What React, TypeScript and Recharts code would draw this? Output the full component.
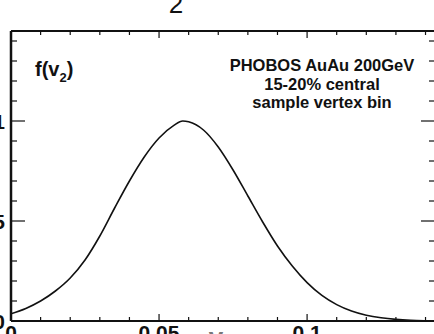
import React from "react"
import { LineChart, Line, XAxis, YAxis } from "recharts"

// v2 values (x) and f(v2)
const v2Values = [
  0, 0.005, 0.01, 0.015, 0.02, 0.025, 0.03, 0.035, 0.04, 0.045, 0.05, 0.055,
  0.058, 0.06, 0.065, 0.07, 0.075, 0.08, 0.085, 0.09, 0.095, 0.1, 0.105, 0.11,
  0.115, 0.12, 0.125, 0.13, 0.135, 0.14, 0.145,
]
const fValues = [
  0.036, 0.063, 0.1, 0.15, 0.215, 0.305, 0.425, 0.565, 0.7, 0.82, 0.915, 0.978,
  1.0, 0.996, 0.955, 0.87, 0.755, 0.625, 0.495, 0.375, 0.275, 0.192, 0.128,
  0.082, 0.05, 0.029, 0.016, 0.008, 0.0035, 0.0015, 0.0006,
]

const xTicks = [0, 0.01, 0.02, 0.03, 0.04, 0.05, 0.06, 0.07, 0.08, 0.09, 0.1, 0.11, 0.12, 0.13, 0.14]
const yTicks = [0, 0.1, 0.2, 0.3, 0.4, 0.5, 0.6, 0.7, 0.8, 0.9, 1, 1.1, 1.2, 1.3, 1.4]
const xLabels: Record<string, string> = { "0": "0", "0.05": "0.05", "0.1": "0.1" }
const yLabels: Record<string, string> = { "0": "0", "0.5": "0.5", "1": "1" }
const infoLines = ["PHOBOS AuAu 200GeV", "15-20% central", "sample vertex bin"]

const data = v2Values.map((v, i) => ({ v, f: fValues[i] }))

const FONT = "'Liberation Sans', Arial, Helvetica, sans-serif"
const INK = "#111"

const isMajorX = (v: number) => Math.abs(v * 20 - Math.round(v * 20)) < 1e-6
const isMajorY = (v: number) => Math.abs(v * 2 - Math.round(v * 2)) < 1e-6

const BottomTick = (props: any) => {
  const { x, y, payload } = props
  const major = isMajorX(payload.value)
  const label = xLabels[String(payload.value)]
  return (
    <g>
      <line x1={x} y1={y} x2={x} y2={y - (major ? 7 : 4)} stroke={INK} strokeWidth={1.2} />
      {label && (
        <text x={x} y={y + 19} textAnchor="middle" fontFamily={FONT} fontWeight="bold" fontSize={21} fill={INK}>
          {label}
        </text>
      )}
    </g>
  )
}

const TopTick = (props: any) => {
  const { x, y, payload } = props
  const major = isMajorX(payload.value)
  return <line x1={x} y1={y} x2={x} y2={y + (major ? 7 : 4)} stroke={INK} strokeWidth={1.2} />
}

const LeftTick = (props: any) => {
  const { x, y, payload } = props
  const major = isMajorY(payload.value)
  const label = yLabels[String(payload.value)]
  return (
    <g>
      <line x1={x} y1={y} x2={x + (major ? 14 : 6)} y2={y} stroke={INK} strokeWidth={1.2} />
      {label && (
        <text x={x - 6} y={y + 8} textAnchor="end" fontFamily={FONT} fontWeight="bold" fontSize={21} fill={INK}>
          {label}
        </text>
      )}
    </g>
  )
}

const RightTick = (props: any) => {
  const { x, y, payload } = props
  const major = isMajorY(payload.value)
  return <line x1={x} y1={y} x2={x - (major ? 14 : 6)} y2={y} stroke={INK} strokeWidth={1.2} />
}

export default function App() {
  return (
    <div
      style={{
        position: "fixed",
        left: 0,
        top: 0,
        width: 434,
        height: 334,
        overflow: "hidden",
        background: "#fff",
      }}
    >
      <LineChart
        width={440}
        height={334}
        data={data}
        margin={{ top: 30, right: 4, bottom: 12, left: 10 }}
      >
        <XAxis
          xAxisId="bottom"
          dataKey="v"
          type="number"
          domain={[0, 0.1432]}
          allowDataOverflow
          ticks={xTicks}
          interval={0}
          height={1}
          tickSize={0}
          tickMargin={0}
          tick={<BottomTick />}
          axisLine={{ stroke: INK, strokeWidth: 2 }}
        />
        <XAxis
          xAxisId="top"
          orientation="top"
          dataKey="v"
          type="number"
          domain={[0, 0.1432]}
          allowDataOverflow
          ticks={xTicks}
          interval={0}
          height={1}
          tickSize={0}
          tickMargin={0}
          tick={<TopTick />}
          axisLine={{ stroke: INK, strokeWidth: 2 }}
        />
        <YAxis
          yAxisId="left"
          type="number"
          domain={[0, 1.45]}
          allowDataOverflow
          ticks={yTicks}
          interval={0}
          width={1}
          tickSize={0}
          tickMargin={0}
          tick={<LeftTick />}
          axisLine={{ stroke: INK, strokeWidth: 2.5 }}
        />
        {/* right frame edge lies just outside the visible crop */}
        <YAxis
          yAxisId="right"
          orientation="right"
          type="number"
          domain={[0, 1.45]}
          allowDataOverflow
          ticks={yTicks}
          interval={0}
          width={1}
          tickSize={0}
          tickMargin={0}
          tick={<RightTick />}
          axisLine={false}
        />
        <Line
          xAxisId="bottom"
          yAxisId="left"
          type="monotone"
          dataKey="f"
          stroke={INK}
          strokeWidth={1.6}
          dot={false}
          isAnimationActive={false}
        />
        <text x={35} y={76} fontFamily={FONT} fontWeight="bold" fontSize={20} fill={INK}>
          f(v
          <tspan fontSize={13} dy={6}>2</tspan>
          <tspan dy={-6}>)</tspan>
        </text>
        {infoLines.map((line, i) => (
          <text
            key={line}
            x={322}
            y={71 + i * 18.5}
            textAnchor="middle"
            fontFamily={FONT}
            fontWeight="bold"
            fontSize={16.5}
            fill={INK}
          >
            {line}
          </text>
        ))}
        <text x={176} y={13} textAnchor="middle" fontFamily={FONT} fontSize={26} fill={INK}>
          2
        </text>
        <text x={216} y={346} textAnchor="middle" fontFamily={FONT} fontWeight="bold" fontSize={26} fill="#777">
          v
        </text>
      </LineChart>
    </div>
  )
}
